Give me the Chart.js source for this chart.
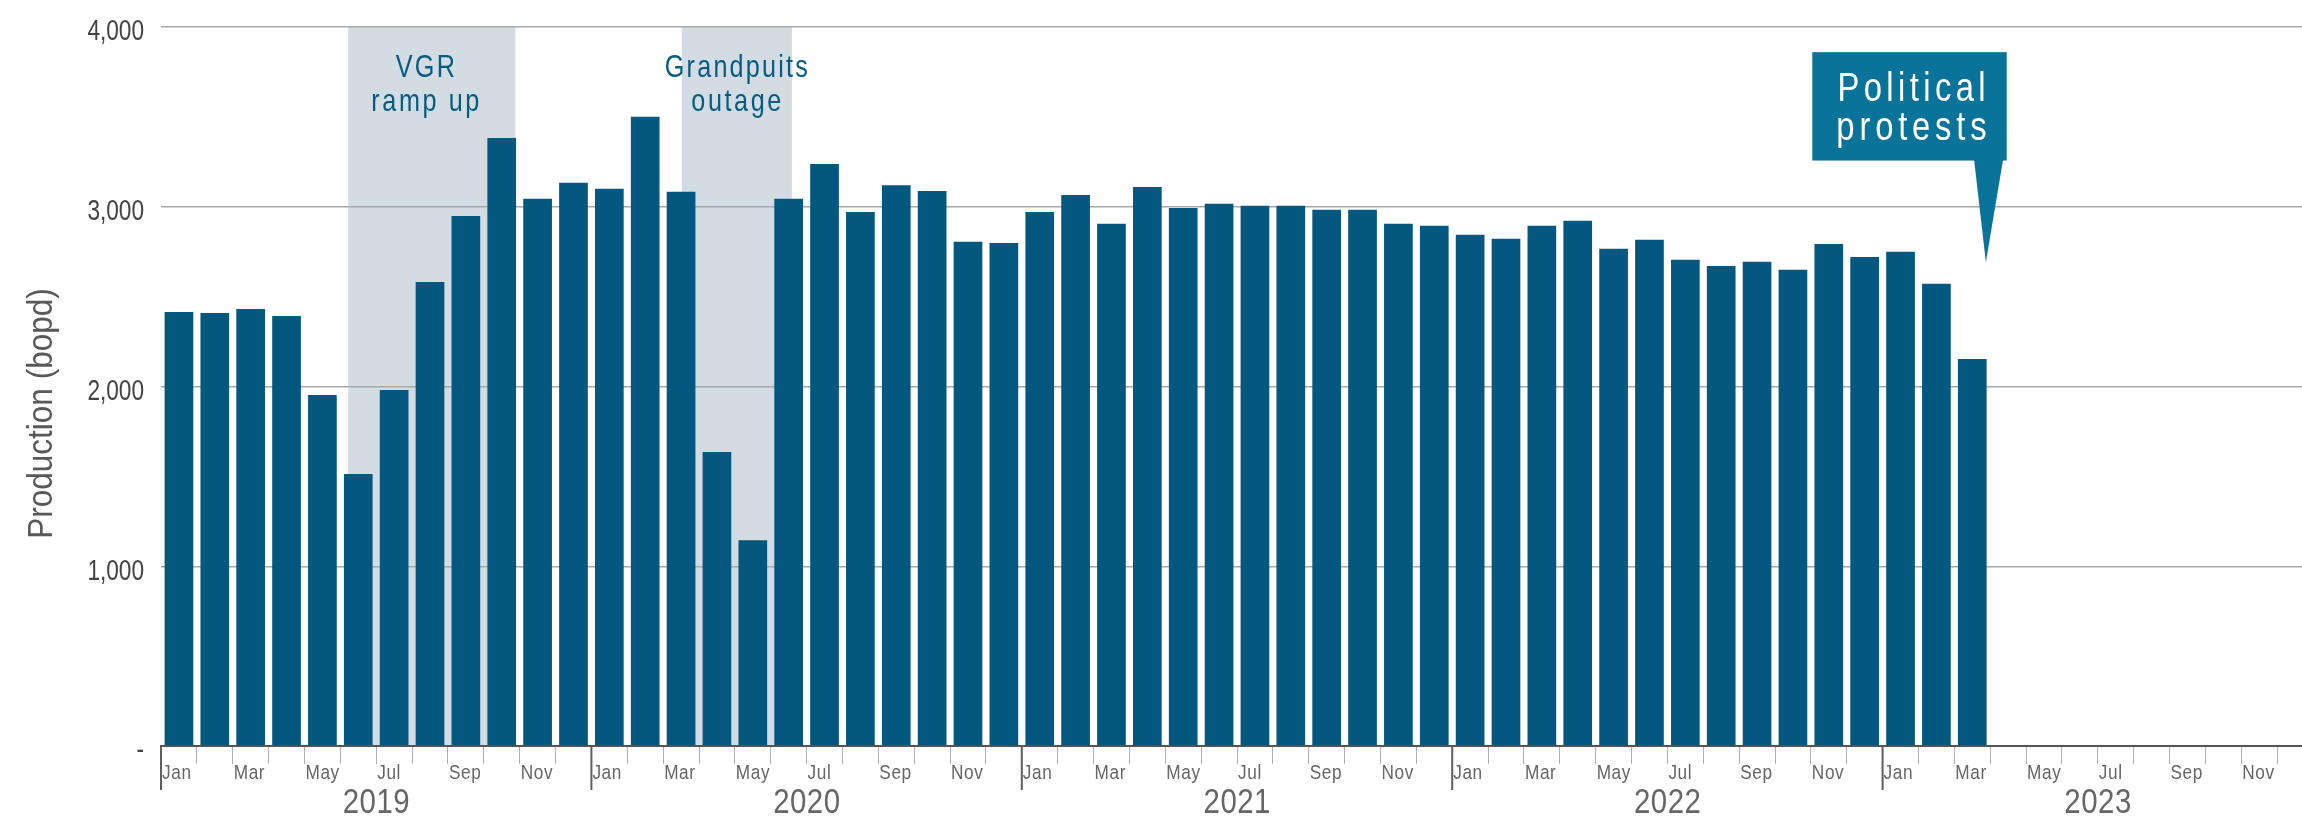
<!DOCTYPE html>
<html><head><meta charset="utf-8">
<script src="https://cdn.jsdelivr.net/npm/chart.js@4.4.1/dist/chart.umd.min.js"></script>
<style>
html,body{margin:0;padding:0;overflow:hidden;background:#fff;width:2302px;height:816px}
canvas{display:block}
</style></head>
<body>
<canvas id="c" width="2330" height="816"></canvas>
<script>
// ---- data ----
const monthNames = ['Jan','Feb','Mar','Apr','May','Jun','Jul','Aug','Sep','Oct','Nov','Dec'];
const years = ['2019','2020','2021','2022','2023'];
const prod2019 = [2415,2409,2431,2392,1953,1513,1981,2582,2949,3383,3044,3134];
const prod2020 = [3100,3501,3083,1635,1145,3044,3238,2971,3120,3087,2805,2799];
const prod2021 = [2971,3066,2905,3110,2993,3016,3005,3005,2983,2983,2905,2894];
const prod2022 = [2844,2822,2894,2922,2766,2816,2705,2671,2694,2649,2793,2721];
const prod2023 = [2749,2571,2153];
const yTickValues = [0,1000,2000,3000,4000];
const shadeLabels = [['VGR','ramp up'],['Grandpuits','outage']];
const calloutLines = ['Political','protests'];
const yTitle = 'Production (bopd)';

const labels = years.flatMap(y => monthNames.map(m => m + ' ' + y));
const values = [].concat(prod2019, prod2020, prod2021, prod2022, prod2023);
while (values.length < labels.length) values.push(null);

// ---- styling / layout ----
const SANS = '"Liberation Sans", Arial, sans-serif';
const BAR = '#04577e';
const SHADE = '#d3dce2';
const NOTE = '#055b81';
const CALLOUT = '#0a739a';

const shades = [
  {from: 4.72, to: 9.38, textAt: 6.87},
  {from: 14.02, to: 17.09, textAt: 15.54}
];
const callout = {left: 45.54, right: 50.96, top: 3860, bottom: 3257, baseL: 50.05, baseR: 50.86, tipX: 50.38, tipY: 2691};

// condensed text: font size, horizontal squeeze, tracking (px)
function ctext(ctx, s, x, y, size, sx, ls, color, align) {
  ctx.save();
  ctx.font = size + 'px ' + SANS;
  ctx.fillStyle = color;
  ctx.textBaseline = 'alphabetic';
  ctx.textAlign = 'left';
  const base = ctx.measureText(s).width * sx;
  const w = base + ls * (s.length - 1);
  let x0 = x;
  if (align === 'center') x0 = x - w / 2;
  else if (align === 'right') x0 = x - w;
  ctx.translate(x0, y);
  ctx.scale(sx, 1);
  ctx.letterSpacing = (ls / sx) + 'px';
  ctx.fillText(s, 0, 0);
  ctx.restore();
}

const decor = {
  id: 'decor',
  beforeDraw(chart) {
    const {ctx, scales: {x, y}} = chart;
    ctx.save();
    ctx.fillStyle = SHADE;
    shades.forEach(s => {
      const x0 = x.getPixelForValue(s.from), x1 = x.getPixelForValue(s.to);
      const t = y.getPixelForValue(4000), b = y.getPixelForValue(0);
      ctx.fillRect(x0, t, x1 - x0, b - t);
    });
    ctx.restore();
  },
  afterDraw(chart) {
    const {ctx, scales: {x, y}, chartArea} = chart;
    const slot = x.getPixelForValue(1) - x.getPixelForValue(0);
    // y tick labels from the scale
    y.ticks.forEach((t, i) => {
      ctext(ctx, t.label, 144, y.getPixelForTick(i) + 13.4, 29, 0.78, 0, '#444444', 'right');
    });
    // month labels from the scale
    x.ticks.forEach((t, i) => {
      if (!t.label) return;
      ctext(ctx, t.label, x.getPixelForTick(i) - slot / 2 + 1, 778.7, 20.5, 0.84, 0.6, '#666666', 'left');
    });
    // year boundary ticks and year labels
    years.forEach((yr, i) => {
      const x0 = x.getPixelForValue(i * 12) - slot / 2;
      ctx.save();
      ctx.strokeStyle = '#5e5e5e';
      ctx.lineWidth = 2;
      ctx.beginPath();
      ctx.moveTo(x0, chartArea.bottom);
      ctx.lineTo(x0, chartArea.bottom + 44);
      ctx.stroke();
      ctx.restore();
      ctext(ctx, yr, x0 + 6 * slot, 813, 35, 0.84, 0.5, '#666666', 'center');
    });
    // shade labels
    shades.forEach((s, i) => {
      const cx = x.getPixelForValue(s.textAt);
      ctext(ctx, shadeLabels[i][0], cx, chartArea.top + 50.4, 31.5, 0.8, 2.2, NOTE, 'center');
      ctext(ctx, shadeLabels[i][1], cx, chartArea.top + 84.4, 31.5, 0.8, 2.6, NOTE, 'center');
    });
    // callout
    const L = x.getPixelForValue(callout.left), R = x.getPixelForValue(callout.right);
    const T = y.getPixelForValue(callout.top), B = y.getPixelForValue(callout.bottom);
    ctx.save();
    ctx.fillStyle = CALLOUT;
    ctx.fillRect(L, T, R - L, B - T);
    ctx.beginPath();
    ctx.moveTo(x.getPixelForValue(callout.baseL), B - 1);
    ctx.lineTo(x.getPixelForValue(callout.baseR), B - 1);
    ctx.lineTo(x.getPixelForValue(callout.tipX), y.getPixelForValue(callout.tipY));
    ctx.closePath();
    ctx.fill();
    ctx.restore();
    const cx = (L + R) / 2 + 2;
    ctext(ctx, calloutLines[0], cx, T + 48.5, 41, 0.8, 4.4, '#ffffff', 'center');
    ctext(ctx, calloutLines[1], cx, T + 87.5, 41, 0.8, 4.8, '#ffffff', 'center');
    // y title
    ctx.save();
    ctx.translate(52.3, 413.5);
    ctx.rotate(-Math.PI / 2);
    ctext(ctx, yTitle, 0, 0, 35, 0.9, 0, '#595959', 'center');
    ctx.restore();
  }
};

new Chart(document.getElementById('c'), {
  type: 'bar',
  data: {
    labels: labels,
    datasets: [{
      data: values,
      backgroundColor: BAR,
      borderWidth: 0,
      barPercentage: 0.8,
      categoryPercentage: 1.0
    }]
  },
  options: {
    responsive: false,
    animation: false,
    devicePixelRatio: 1,
    layout: {padding: {top: 27, right: 17, left: 0, bottom: 0}},
    plugins: {legend: {display: false}, tooltip: {enabled: false}},
    scales: {
      x: {
        type: 'category',
        offset: true,
        grid: {offset: true, drawOnChartArea: false, drawTicks: true, tickLength: 18, color: '#b0b0b0', lineWidth: 1},
        border: {display: true, color: '#555555', width: 2},
        ticks: {
          autoSkip: false, maxRotation: 0, minRotation: 0,
          color: 'rgba(0,0,0,0)',
          font: {family: SANS, size: 1},
          callback: (v, i) => (i % 2 === 0 ? monthNames[i % 12] : '')
        },
        afterFit: s => { s.height = 70; }
      },
      y: {
        min: 0, max: 4000,
        afterBuildTicks: s => { s.ticks = yTickValues.map(v => ({value: v})); },
        grid: {color: '#a8a8a8', lineWidth: 1.5, drawTicks: false},
        border: {display: false},
        ticks: {
          padding: 17,
          color: 'rgba(0,0,0,0)',
          font: {family: SANS, size: 1},
          callback: v => (v === 0 ? '-' : v.toLocaleString('en-US'))
        },
        afterFit: s => { s.width = 161; }
      }
    }
  },
  plugins: [decor]
});
</script>
</body></html>
